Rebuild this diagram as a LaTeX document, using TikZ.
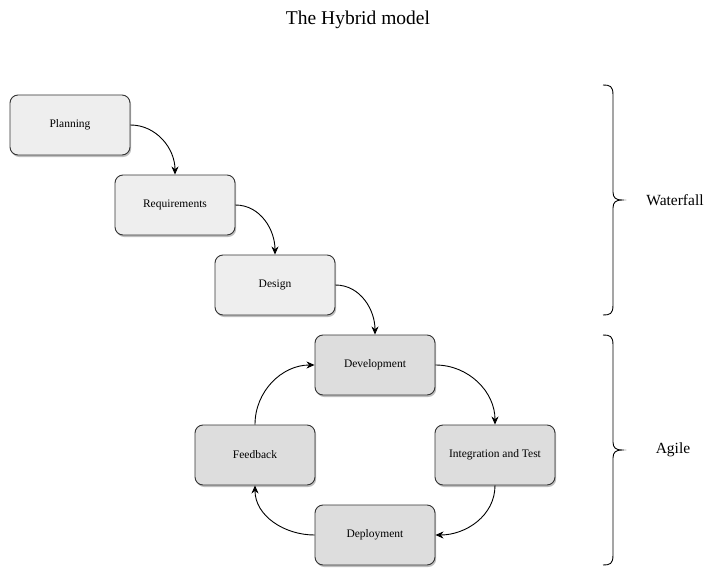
\documentclass[tikz,border=0pt]{standalone}
\usepackage{fontspec}
\setmainfont{Liberation Serif}
\usetikzlibrary{arrows.meta,shadows}
\definecolor{wfill}{HTML}{EEEEEE}
\definecolor{afill}{HTML}{DDDDDD}
\definecolor{bord}{HTML}{333333}
\begin{document}
\begin{tikzpicture}[x=1pt,y=-1pt,
  phase/.style={draw=bord,line width=0.9pt,rounded corners=8pt,minimum width=120pt,minimum height=60pt,
    inner sep=0pt,font=\fontsize{11.5}{13}\selectfont,
    drop shadow={shadow xshift=1.2pt,shadow yshift=-2pt,opacity=0.25,fill=black}},
  wf/.style={phase,fill=wfill},
  ag/.style={phase,fill=afill},
  conn/.style={draw=black,line width=0.9pt,-{Stealth[length=8pt,width=7pt,inset=2.5pt]}},
  brc/.style={draw=black,line width=0.9pt},
  lbl/.style={font=\fontsize{15.5}{18}\selectfont}]
\useasboundingbox (0,0) rectangle (710,578);
\node[font=\fontsize{19.5}{22}\selectfont] (title) at (358,20) {The Hybrid model};
\node[wf] (plan) at (70,125) {Planning};
\node[wf] (req) at (175,205) {Requirements};
\node[wf] (des) at (275,285) {Design};
\node[ag] (dev) at (375,365) {Development};
\node[ag] (int) at (495,455) {Integration and Test};
\node[ag] (dep) at (375,535) {Deployment};
\node[ag] (fb) at (255,455) {Feedback};
\draw[conn] (plan.east) to[out=0,in=90] (req.north);
\draw[conn] (req.east) to[out=0,in=90] (des.north);
\draw[conn] (des.east) to[out=0,in=90] (dev.north);
\draw[conn] (dev.east) to[out=0,in=90] (int.north);
\draw[conn] (int.south) to[out=-90,in=0] (dep.east);
\draw[conn] (dep.west) to[out=180,in=-90] (fb.south);
\draw[conn] (fb.north) to[out=90,in=180] (dev.west);
% braces
\coordinate (wt) at (603,85);
\coordinate (wb) at (603,315);
\draw[brc] (wt) .. controls (610,85) and (613,86) .. (613,95) -- (613,192) .. controls (613,198) and (616,200) .. (622,200)
  .. controls (616,200) and (613,202) .. (613,208) -- (613,305) .. controls (613,314) and (610,315) .. (wb);
\coordinate (at) at (603,335);
\coordinate (ab) at (603,565);
\draw[brc] (at) .. controls (610,335) and (613,336) .. (613,345) -- (613,442) .. controls (613,448) and (616,450) .. (622,450)
  .. controls (616,450) and (613,452) .. (613,458) -- (613,555) .. controls (613,564) and (610,565) .. (ab);
\node[lbl] (wl) at (675,200) {Waterfall};
\node[lbl] (al) at (673,450) {Agile};
\end{tikzpicture}
\end{document}
